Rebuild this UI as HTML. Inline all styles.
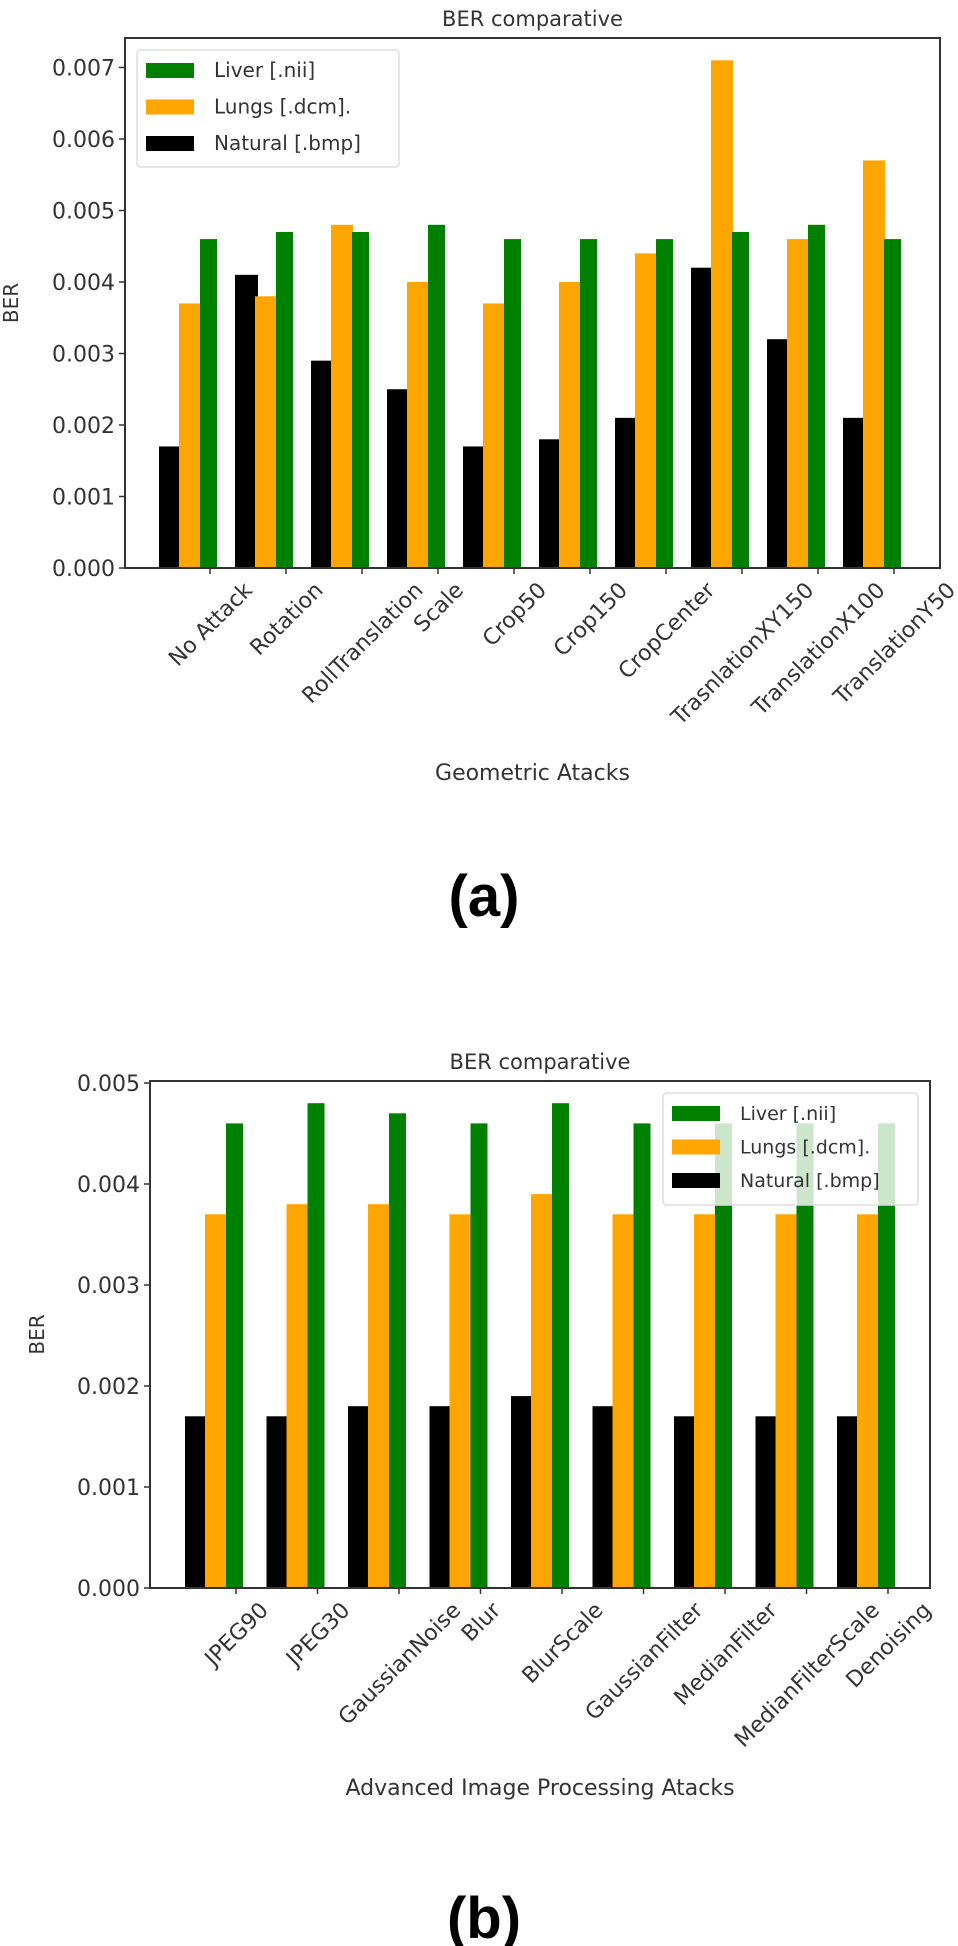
<!DOCTYPE html>
<html><head><meta charset="utf-8"><style>
html,body{margin:0;padding:0;background:#fff;}
svg{display:block;font-family:"DejaVu Sans","Liberation Sans",sans-serif;}
</style></head><body>
<svg id="fig" width="958" height="1946" viewBox="0 0 958 1946" xmlns="http://www.w3.org/2000/svg"></svg>
<script>
// ---- Chart (a) data ----
const catsA = ["No Attack","Rotation","RollTranslation","Scale","Crop50","Crop150","CropCenter","TrasnlationXY150","TranslationX100","TranslationY50"];
const naturalA = [0.0017,0.0041,0.0029,0.0025,0.0017,0.0018,0.0021,0.0042,0.0032,0.0021];
const lungsA   = [0.0037,0.0038,0.0048,0.0040,0.0037,0.0040,0.0044,0.0071,0.0046,0.0057];
const liverA   = [0.0046,0.0047,0.0047,0.0048,0.0046,0.0046,0.0046,0.0047,0.0048,0.0046];
const ticksA = [0,0.001,0.002,0.003,0.004,0.005,0.006,0.007];
const tickLabelsA = ["0.000","0.001","0.002","0.003","0.004","0.005","0.006","0.007"];
// ---- Chart (b) data ----
const catsB = ["JPEG90","JPEG30","GaussianNoise","Blur","BlurScale","GaussianFilter","MedianFilter","MedianFilterScale","Denoising"];
const naturalB = [0.0017,0.0017,0.0018,0.0018,0.0019,0.0018,0.0017,0.0017,0.0017];
const lungsB   = [0.0037,0.0038,0.0038,0.0037,0.0039,0.0037,0.0037,0.0037,0.0037];
const liverB   = [0.0046,0.0048,0.0047,0.0046,0.0048,0.0046,0.0046,0.0046,0.0046];
const ticksB = [0,0.001,0.002,0.003,0.004,0.005];
const tickLabelsB = ["0.000","0.001","0.002","0.003","0.004","0.005"];

const NS = "http://www.w3.org/2000/svg";
const svg = document.getElementById("fig");
function mk(tag, attrs, parent){
  const e = document.createElementNS(NS, tag);
  for (const k in attrs) e.setAttribute(k, attrs[k]);
  (parent||svg).appendChild(e);
  return e;
}

function drawChart(cfg){
  const g = mk("g", {});
  
  
  const {L,R,T,y0,perUnit,tick0,step} = cfg;
  const yScale = v => y0 - v/0.001*perUnit;
  const xTick = i => tick0 + i*step;
  const title = mk("text", {x:(L+R)/2, y:T-12, "text-anchor":"middle", "font-size":"21", fill:"#333"}, g);
  title.textContent = "BER comparative";
  
  
  const series = [
    {vals:cfg.natural, color:"#000000", off:-51, w:23, name:"natural"},
    {vals:cfg.lungs, color:"#FFA500", off:-31, w:22, name:"lungs"},
    {vals:cfg.liver, color:"#008000", off:-10, w:17, name:"liver"}
  ];
  series.forEach(s=>{
    s.vals.forEach((v,i)=>{
      const y = yScale(v);
      const r = mk("rect", {x:xTick(i)+s.off, y:y, width:s.w, height:y0-y, fill:s.color}, g);
      
      
    });
  });
  const lg = mk("g", {}, g);
  
  
  mk("rect", {x:cfg.legX, y:cfg.legY, width:cfg.legW, height:cfg.legH, rx:4, fill:"#fff", "fill-opacity":cfg.legAlpha, stroke:"#ddd", "stroke-width":1.5}, lg);
  const entries = [["Liver [.nii]","#008000"],["Lungs [.dcm].","#FFA500"],["Natural [.bmp]","#000000"]];
  entries.forEach((e,k)=>{
    const cy = cfg.legY + 20 + k*cfg.legGap;
    const en = mk("g", {}, lg);
    
    
    mk("rect", {x:cfg.legX+9, y:cy-7, width:48, height:15, fill:e[1]}, en);
    const t = mk("text", {x:cfg.legX+77, y:cy+7, "font-size":cfg.legFont, fill:"#333"}, en);
    t.textContent = e[0];
  });
  const fr = mk("rect", {x:L, y:T, width:R-L, height:y0-T, fill:"none", stroke:"#333", "stroke-width":2}, g);
  
  
  cfg.ticks.forEach((v,k)=>{
    const y = yScale(v);
    mk("line", {x1:L-6, x2:L, y1:y, y2:y, stroke:"#333", "stroke-width":1.5}, g);
    const t = mk("text", {x:L-10, y:y+8, "text-anchor":"end", "font-size":"22", fill:"#333"}, g);
    t.textContent = cfg.tickLabels[k];
    
    
  });
  cfg.cats.forEach((c,i)=>{
    const x = xTick(i);
    mk("line", {x1:x, x2:x, y1:y0, y2:y0+6, stroke:"#333", "stroke-width":1.5}, g);
    const t = mk("text", {x:0, y:0, "text-anchor":"middle", "font-size":"22", fill:"#333"}, g);
    t.textContent = c;
    
    
    const w = t.getComputedTextLength();
    const cy = y0 + 10 + (w+22)*0.7071/2;
    t.setAttribute("transform", "translate(" + x + "," + cy + ") rotate(-45) translate(0,8)");
  });
  const yl = mk("text", {x:0, y:0, "text-anchor":"middle", "font-size":"20", fill:"#333", transform:"translate(" + cfg.yLabX + "," + ((T+y0)/2) + ") rotate(-90)"}, g);
  yl.textContent = "BER";
  
  
  const xl = mk("text", {x:(L+R)/2, y:cfg.xLabY, "text-anchor":"middle", "font-size":"22", fill:"#333"}, g);
  xl.textContent = cfg.xLabel;
  
  
  const pl = mk("text", {x:cfg.panX, y:cfg.panY, "text-anchor":"middle", "font-size":"58", "font-weight":"bold", fill:"#000", "font-family":"Liberation Sans, sans-serif"}, g);
  pl.textContent = cfg.panel;
  
  
}

drawChart({name:"chart-geometric", L:125, R:940, T:38, y0:568, perUnit:71.5, tick0:210, step:76,
  cats:catsA, natural:naturalA, lungs:lungsA, liver:liverA, ticks:ticksA, tickLabels:tickLabelsA,
  legX:137, legY:50, legW:262, legH:117, legGap:36.5, legFont:20, legAlpha:0.8,
  yLabX:18, xLabY:780, xLabel:"Geometric Atacks", panel:"(a)", panX:484, panY:916});

drawChart({name:"chart-advanced", L:150, R:930, T:1081, y0:1588, perUnit:101, tick0:236, step:81.5,
  cats:catsB, natural:naturalB, lungs:lungsB, liver:liverB, ticks:ticksB, tickLabels:tickLabelsB,
  legX:663, legY:1093, legW:255, legH:112, legGap:33.5, legFont:19, legAlpha:0.8,
  yLabX:44, xLabY:1795, xLabel:"Advanced Image Processing Atacks", panel:"(b)", panX:484, panY:1938});
</script>
</body></html>
